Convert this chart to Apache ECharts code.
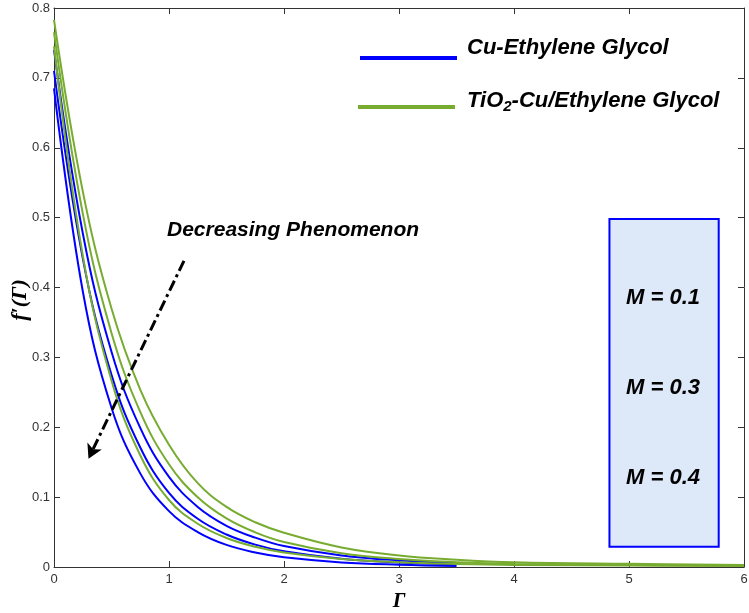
<!DOCTYPE html>
<html>
<head>
<meta charset="utf-8">
<script src="https://cdn.jsdelivr.net/npm/echarts@6/dist/echarts.min.js"></script>
<style>html,body{margin:0;padding:0;background:#fff}#c{width:749px;height:613px}</style>
</head>
<body>
<div id="c"></div>
<script>
// Γ sample points
const gamma = [0, 0.25, 0.5, 0.75, 1.0, 1.25, 1.5, 1.75, 2.0, 2.5, 3.0, 3.5, 4.0, 5.0, 6.0];
// Cu-Ethylene Glycol (blue) curves
const blue1 = [0.740, 0.478, 0.308, 0.199, 0.129, 0.086, 0.059, 0.042, 0.030, 0.0165, 0.0095, 0.0058];
const blue2 = [0.710, 0.442, 0.275, 0.171, 0.106, 0.069, 0.0465, 0.032, 0.0225, 0.0118, 0.0065, 0.0036];
const blue3 = [0.685, 0.395, 0.228, 0.134, 0.080, 0.050, 0.0316, 0.0207, 0.0139, 0.0066, 0.0033, 0.0016];
// TiO2-Cu/Ethylene Glycol (green) curves
const green1 = [0.783, 0.538, 0.370, 0.254, 0.175, 0.120, 0.086, 0.064, 0.049, 0.028, 0.0165, 0.0105, 0.0068, 0.0045, 0.003];
const green2 = [0.765, 0.506, 0.335, 0.222, 0.147, 0.0998, 0.0695, 0.0496, 0.0358, 0.0197, 0.0114, 0.0069, 0.0044, 0.003, 0.002];
const green3 = [0.745, 0.446, 0.267, 0.160, 0.0959, 0.0619, 0.0415, 0.0289, 0.0209, 0.0115, 0.0069, 0.0044, 0.0030, 0.0022, 0.0015];
const xTicks = [0, 1, 2, 3, 4, 5, 6];
const yTicks = [0, 0.1, 0.2, 0.3, 0.4, 0.5, 0.6, 0.7, 0.8];
const mLabels = ['M = 0.1', 'M = 0.3', 'M = 0.4'];
const seriesNames = ['Cu-Ethylene Glycol', 'TiO2-Cu/Ethylene Glycol'];

const BLUE = '#0000ff', GREEN = '#77ac30';
const pair = arr => arr.map((v, i) => [gamma[i], v]);

const chart = echarts.init(document.getElementById('c'));
const tickLabel = { color: '#333', fontFamily: 'Liberation Sans', fontSize: 13 };
const axisLine = { show: true, onZero: false, lineStyle: { color: '#333', width: 1 } };
const tick = { show: true, inside: true, length: 6, lineStyle: { color: '#333' } };
const textFont = 'italic bold 22px "Liberation Sans"';

function lineSeries(name, data, color, extra) {
  return Object.assign({
    type: 'line', name: name, data: pair(data), smooth: 0.4, showSymbol: false,
    lineStyle: { color: color, width: 2 }, itemStyle: { color: color }, silent: true, z: 3
  }, extra || {});
}

const option = {
  animation: false,
  grid: { left: 54, right: 5, top: 8, bottom: 46, containLabel: false, outerBoundsMode: 'none' },
  xAxis: [
    { type: 'value', min: 0, max: 6, interval: 1, position: 'bottom',
      axisLine: axisLine, axisTick: tick,
      axisLabel: Object.assign({ margin: 6, formatter: v => xTicks.includes(v) ? String(v) : '' }, tickLabel),
      splitLine: { show: false },
      name: 'Γ', nameLocation: 'middle', nameGap: 22,
      nameTextStyle: { fontFamily: 'Liberation Serif', fontStyle: 'italic', fontWeight: 'bold', fontSize: 21, color: '#000' } },
    { type: 'value', min: 0, max: 6, interval: 1, position: 'top',
      axisLine: axisLine, axisTick: tick,
      axisLabel: { show: false }, splitLine: { show: false } }
  ],
  yAxis: [
    { type: 'value', min: 0, max: 0.8, interval: 0.1, position: 'left',
      axisLine: axisLine, axisTick: tick,
      axisLabel: Object.assign({ margin: 4, formatter: v => { const t = yTicks.find(y => Math.abs(y - v) < 1e-9); return t === undefined ? '' : String(t); } }, tickLabel),
      splitLine: { show: false } },
    { type: 'value', min: 0, max: 0.8, interval: 0.1, position: 'right',
      axisLine: axisLine, axisTick: tick,
      axisLabel: { show: false }, splitLine: { show: false } }
  ],
  series: [
    lineSeries(seriesNames[0], blue3, BLUE, {
      markArea: { silent: true, z: 1,
        itemStyle: { color: '#dde8f8', borderColor: BLUE, borderWidth: 2 },
        data: [[{ coord: [4.83, 0.498] }, { coord: [5.78, 0.029] }]] }
    }),
    lineSeries(seriesNames[0], blue2, BLUE),
    lineSeries(seriesNames[0], blue1, BLUE),
    lineSeries(seriesNames[1], green3, GREEN),
    lineSeries(seriesNames[1], green2, GREEN),
    lineSeries(seriesNames[1], green1, GREEN, {
      markLine: { silent: true, symbol: ['none', 'arrow'], symbolSize: [12, 14], z: 5,
        label: { show: false },
        lineStyle: { color: '#000', width: 3, type: [11, 4, 3, 4] },
        data: [[{ coord: [1.13, 0.438] }, { coord: [0.30, 0.155] }]] }
    })
  ],
  graphic: [
    { type: 'line', shape: { x1: 360, y1: 58, x2: 457, y2: 58 }, style: { stroke: BLUE, lineWidth: 4 } },
    { type: 'line', shape: { x1: 358, y1: 107, x2: 455, y2: 107 }, style: { stroke: GREEN, lineWidth: 4 } },
    { type: 'text', x: 467, y: 48, style: { text: seriesNames[0], fill: '#000', verticalAlign: 'middle', font: textFont } },
    { type: 'text', x: 467, y: 90, style: {
        text: '{a|TiO}{s|2}{a|-Cu/Ethylene Glycol}',
        rich: { a: { fontFamily: 'Liberation Sans', fontStyle: 'italic', fontWeight: 'bold', fontSize: 22, fill: '#000', verticalAlign: 'top', lineHeight: 24 },
                s: { fontFamily: 'Liberation Sans', fontStyle: 'italic', fontWeight: 'bold', fontSize: 15, fill: '#000', verticalAlign: 'bottom', padding: [14, 0, 0, 0], lineHeight: 24 } } } },
    { type: 'text', x: 167, y: 230, style: { text: 'Decreasing Phenomenon', fill: '#000', verticalAlign: 'middle', font: 'italic bold 21px "Liberation Sans"' } },
    { type: 'text', x: 20, y: 300, rotation: Math.PI / 2, style: { text: 'f′(Γ)', fill: '#000', align: 'center', verticalAlign: 'middle',
        font: 'italic bold 22px "Liberation Serif"' } },
    { type: 'text', x: 663, y: 298, style: { text: mLabels[0], fill: '#000', align: 'center', verticalAlign: 'middle', font: textFont }, z: 10 },
    { type: 'text', x: 663, y: 388, style: { text: mLabels[1], fill: '#000', align: 'center', verticalAlign: 'middle', font: textFont }, z: 10 },
    { type: 'text', x: 663, y: 478, style: { text: mLabels[2], fill: '#000', align: 'center', verticalAlign: 'middle', font: textFont }, z: 10 }
  ]
};
chart.setOption(option);
</script>
</body>
</html>
